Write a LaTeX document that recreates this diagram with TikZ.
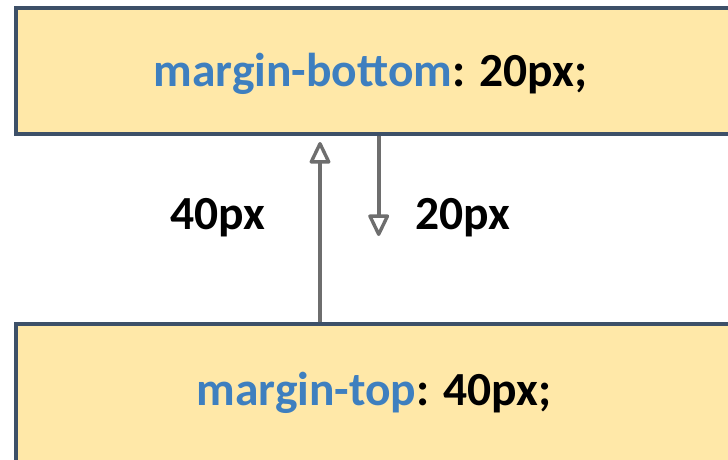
\documentclass[tikz,border=0pt]{standalone}
\usepackage{fontspec}
\setmainfont{Carlito}
\usetikzlibrary{arrows.meta}
\definecolor{boxfill}{HTML}{FFE8A8}
\definecolor{boxline}{HTML}{3D5068}
\definecolor{kwblue}{HTML}{3E7FBF}
\definecolor{arrgray}{HTML}{6E6E6E}
\begin{document}
\begin{tikzpicture}[x=1pt,y=-1pt,
  cssbox/.style={draw=boxline, fill=boxfill, line width=4pt, rectangle, anchor=north west,
    minimum width=800pt, minimum height=126pt, inner sep=0pt},
  txt/.style={font=\fontsize{47.5}{47.5}\selectfont\bfseries, inner sep=0pt, anchor=base},
  arr/.style={draw=arrgray, line width=3.6pt,
    -{Triangle[open, length=24pt, width=22pt, line width=3.4pt, round]}}]
\useasboundingbox (0,0) rectangle (728,459);
\clip (0,0) rectangle (728,459);
\node[cssbox] (tb) at (13.5,6) {};
\node[cssbox, minimum height=200pt] (bb) at (13.5,322) {};
\node[txt] (tbt) at (370.5,86) {{\color{kwblue}margin-bottom}: 20px;};
\node[txt] (bbt) at (374,405) {{\color{kwblue}margin-top}: 40px;};
\coordinate (upx) at (320,0);
\coordinate (dnx) at (378.7,0);
\draw[arr] (bb.north -| upx) -- ([yshift=-6pt]tb.south -| upx);
\draw[arr] (tb.south -| dnx) -- ([yshift=-100pt]tb.south -| dnx);
\node[txt] (l40) at (218,229) {40px};
\node[txt] (l20) at (463,229) {20px};
\end{tikzpicture}
\end{document}
